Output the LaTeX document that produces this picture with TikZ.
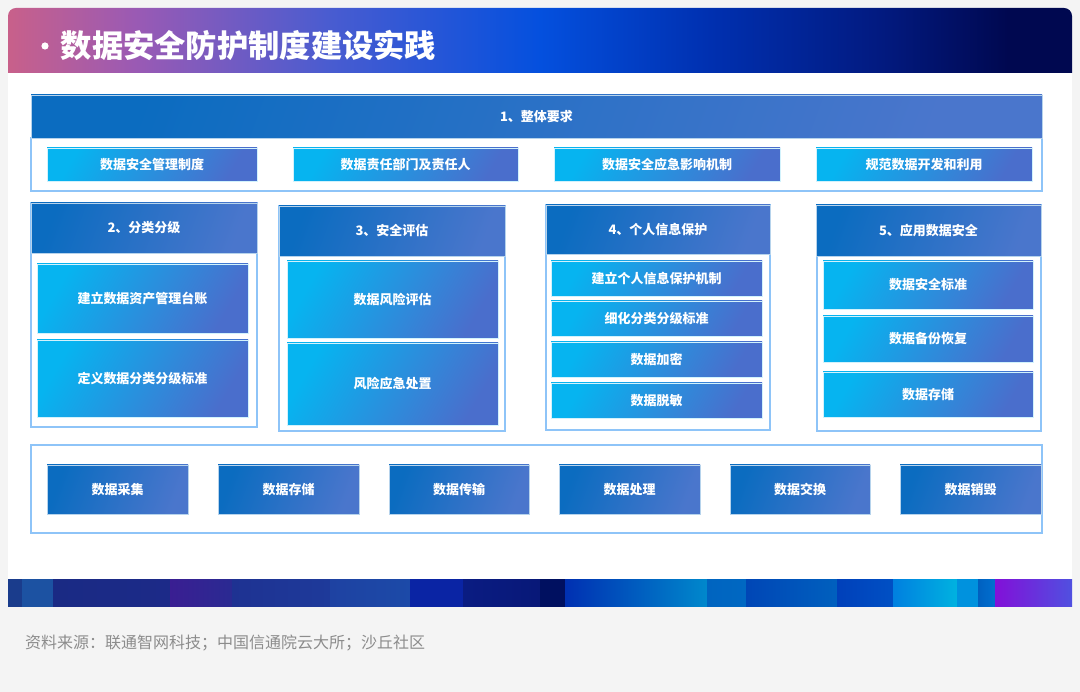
\documentclass[tikz,border=0pt]{standalone}
\usepackage{fontspec}
\setmainfont{Noto Sans CJK SC}
\definecolor{pagebg}{HTML}{F4F4F4}
\definecolor{hdrL}{HTML}{0B6CC0}
\definecolor{hdrR}{HTML}{4A76CC}
\definecolor{subL}{HTML}{06B4F0}
\definecolor{subR}{HTML}{4A6ECC}
\definecolor{frameC}{HTML}{8EC4F8}
\definecolor{srcC}{HTML}{8C8C8C}
\definecolor{tA}{HTML}{C8608A}
\definecolor{tB}{HTML}{9A5AB4}
\definecolor{tC}{HTML}{4A5CD0}
\definecolor{tD}{HTML}{0450DE}
\definecolor{tE}{HTML}{0030B0}
\definecolor{tF}{HTML}{021A80}
\definecolor{tG}{HTML}{000850}
\pgfdeclarehorizontalshading{titlebar}{100bp}{color(0bp)=(tA); color(25bp)=(tA); color(31bp)=(tB); color(40bp)=(tC); color(50bp)=(tD); color(58bp)=(tE); color(66bp)=(tF); color(72bp)=(tG); color(75bp)=(tG); color(100bp)=(tG)}
\tikzset{
  base/.style={inner sep=0pt, outer sep=0pt, text=white, align=center,
    font=\bfseries\fontsize{13}{15}\selectfont},
  hdrbox/.style={base, left color=hdrL, right color=hdrR, shading angle=70,
    draw=hdrL!30!white, line width=0.5pt},
  subbox/.style={base, left color=subL, right color=subR, shading angle=60,
    draw=subL!18!white, line width=0.4pt},
  framebox/.style={inner sep=0pt, outer sep=0pt, draw=frameC, line width=1.1pt, fill=white},
}
\newcommand\bx[7]{\node[#6, minimum width={#4-#2}, minimum height={#5-#3}] (#1) at ({(#2+#4)/2},{(#3+#5)/2}) {#7};}
\begin{document}
\begin{tikzpicture}[x=1pt,y=-1pt]
\useasboundingbox (0,0) rectangle (1080,692);
\fill[pagebg] (0,0) rectangle (1080,692);
% card
\fill[white] (8,60) rectangle (1072,606);
\shade[shading=titlebar] (8,73) [rounded corners=8pt] -- (8,8) -- (1072,8) [sharp corners] -- (1072,73) -- cycle;
\fill[white] (45,46) circle (3.6);
\node[anchor=west, inner sep=0pt, text=white, font=\bfseries\fontsize{31.3}{36}\selectfont] (title) at (60.5,45) {数据安全防护制度建设实践};
% bottom stripe
\foreach \xa/\xb/\ca/\cb in {
  8/22/1A3C8C/1A3C8C, 22/53/1C52A2/1C52A2, 53/170/1A2A84/1C2A88,
  170/232/3A1E92/2A2A92, 232/330/1E3292/1E3A9A, 330/410/1E42A2/1C4AA8,
  410/463/0A24A4/0A24A4, 463/540/0A1C82/081878, 540/565/001060/001060,
  565/707/0030B2/0088CC, 707/746/0064C0/0068C2, 746/837/0046B6/0060BE,
  837/893/0040BA/0050C4, 893/957/0080E0/00B2E0, 957/978/0092DE/0092DE,
  978/995/0060C0/0070D0, 995/1072/8210D8/5050E0}{
  \definecolor{sa}{HTML}{\ca}\definecolor{sb}{HTML}{\cb}
  \shade[left color=sa, right color=sb] (\xa,580) rectangle (\xb,606);
}
% section 1
\bx{f1}{31}{138}{1042}{191}{framebox}{}
\bx{h1}{31}{95}{1042}{138}{hdrbox}{1、整体要求}
\bx{a1}{47}{148}{257}{181}{subbox}{数据安全管理制度}
\bx{a2}{293}{148}{518}{181}{subbox}{数据责任部门及责任人}
\bx{a3}{554}{148}{780}{181}{subbox}{数据安全应急影响机制}
\bx{a4}{816}{148}{1032}{181}{subbox}{规范数据开发和利用}
% section 2
\bx{f2}{31}{203}{257}{427}{framebox}{}
\bx{h2}{31}{203}{257}{253}{hdrbox}{2、分类分级}
\bx{b1}{37}{264}{248}{333}{subbox}{建立数据资产管理台账}
\bx{b2}{37}{340}{248}{417}{subbox}{定义数据分类分级标准}
% section 3
\bx{f3}{279}{206}{505}{431}{framebox}{}
\bx{h3}{279}{206}{505}{256}{hdrbox}{3、安全评估}
\bx{c1}{287}{261}{498}{338}{subbox}{数据风险评估}
\bx{c2}{287}{343}{498}{425}{subbox}{风险应急处置}
% section 4
\bx{f4}{546}{205}{770}{430}{framebox}{}
\bx{h4}{546}{205}{770}{254}{hdrbox}{4、个人信息保护}
\bx{d1}{551}{261}{762}{296}{subbox}{建立个人信息保护机制}
\bx{d2}{551}{301}{762}{336}{subbox}{细化分类分级标准}
\bx{d3}{551}{342}{762}{377}{subbox}{数据加密}
\bx{d4}{551}{383}{762}{418}{subbox}{数据脱敏}
% section 5
\bx{f5}{817}{205}{1041}{431}{framebox}{}
\bx{h5}{816}{205}{1041}{256}{hdrbox}{5、应用数据安全}
\bx{e1}{823}{261}{1033}{309}{subbox}{数据安全标准}
\bx{e2}{823}{316}{1033}{362}{subbox}{数据备份恢复}
\bx{e3}{823}{372}{1033}{417}{subbox}{数据存储}
% lifecycle
\bx{f6}{31}{445}{1042}{533}{framebox}{}
\bx{g1}{47}{465}{188}{514}{hdrbox}{数据采集}
\bx{g2}{218}{465}{359}{514}{hdrbox}{数据存储}
\bx{g3}{389}{465}{529}{514}{hdrbox}{数据传输}
\bx{g4}{559}{465}{700}{514}{hdrbox}{数据处理}
\bx{g5}{730}{465}{870}{514}{hdrbox}{数据交换}
\bx{g6}{900}{465}{1041}{514}{hdrbox}{数据销毁}
% source
\node[anchor=west, inner sep=0pt, text=srcC, font=\fontsize{16}{18}\selectfont] (src) at (25,643) {资料来源：联通智网科技；中国信通院云大所；沙丘社区};
\end{tikzpicture}
\end{document}
